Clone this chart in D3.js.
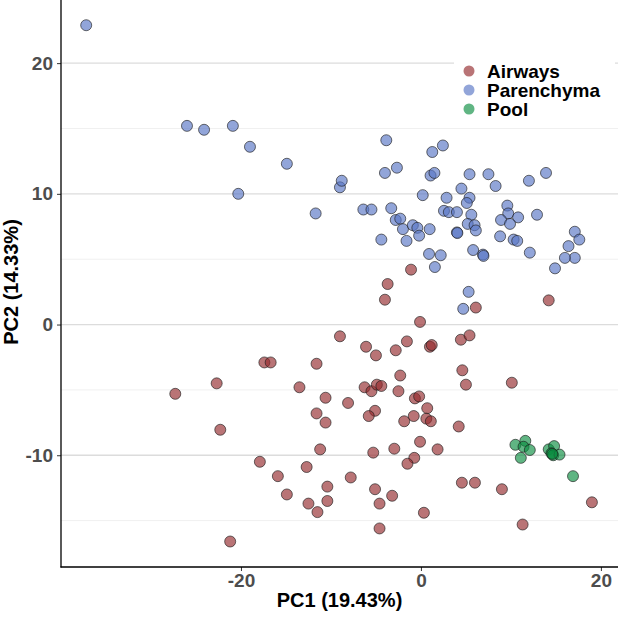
<!DOCTYPE html>
<html>
<head>
<meta charset="utf-8">
<script src="https://cdn.jsdelivr.net/npm/d3@7"></script>
<style>
  html, body { margin: 0; padding: 0; background: #fff; }
  svg { display: block; }
</style>
</head>
<body>
<svg id="chart" width="618" height="617"></svg>
<script>
const groups = ["Airways", "Parenchyma", "Pool"];
const groupColors = ["#942a2d", "#5874c4", "#0a8d40"];

const airwaysX = [-1.1, -3.7, -4.0, 6.1, 14.2, -0.1, -9.0, -6.1, -5.0, -2.8, -1.56, 1.0, 1.2, 4.44, 5.4, 4.6, 5.0, 10.1, -2.3, -6.26, -5.5, -4.9, -4.4, -2.5, -8.1, -5.1, -5.8, -0.67, -0.2, 0.7, -0.8, -1.86, 0.6, 1.1, 4.2, -0.1, 1.85, -2.96, -5.3, -0.74, -1.5, -7.8, -5.1, -3.2, -4.6, 0.33, -4.6, 4.55, 6.0, 9.0, 11.3, 19.0, -17.4, -16.7, -11.6, -22.7, -27.3, -13.5, -10.6, -11.6, -10.6, -22.3, -11.2, -17.9, -12.7, -15.9, -10.4, -14.9, -12.5, -10.4, -11.5, -21.2];
const airwaysY = [4.2, 3.1, 1.9, 1.3, 1.85, 0.2, -0.9, -1.7, -2.36, -1.97, -1.29, -1.7, -1.57, -1.16, -0.83, -3.5, -4.6, -4.45, -3.9, -4.8, -5.1, -4.6, -4.7, -5.1, -6.0, -6.6, -7.0, -5.65, -5.5, -6.4, -7.0, -7.4, -7.2, -7.4, -7.8, -8.97, -9.55, -9.5, -9.8, -10.2, -10.65, -11.7, -12.6, -13.1, -13.7, -14.4, -15.6, -12.1, -12.1, -12.6, -15.3, -13.6, -2.9, -2.9, -3.0, -4.5, -5.3, -4.8, -5.6, -6.8, -7.5, -8.05, -9.55, -10.5, -10.9, -11.6, -12.4, -13.0, -13.7, -13.5, -14.35, -16.6];

const parenchymaX = [-37.2, -26.0, -24.1, -20.9, -19.0, -14.9, -20.3, -11.7, -9.0, -8.8, -3.85, 1.26, 2.44, -4.0, -2.67, 1.07, 1.5, 5.4, 7.5, 8.3, 12.0, 13.9, 4.5, 0.2, 2.85, 5.4, 5.1, -6.4, -5.5, -3.3, -2.8, -2.3, 2.56, 3.1, 4.0, 5.6, 9.6, 9.7, 10.8, 12.9, 8.9, 9.9, -2.0, -0.9, -0.4, -0.2, 0.97, 5.2, 5.96, 6.1, 4.0, 4.05, -4.4, -1.6, 8.8, 10.3, 10.7, 12.1, 17.1, 17.6, 16.4, 17.1, 16.0, 14.9, 0.9, 2.2, 1.55, 5.8, 6.9, 6.95, 5.3, 4.7];
const parenchymaY = [22.9, 15.2, 14.9, 15.2, 13.6, 12.3, 10.0, 8.5, 10.5, 11.0, 14.1, 13.2, 13.7, 11.6, 12.0, 11.4, 11.6, 11.5, 11.5, 10.6, 11.0, 11.6, 10.4, 9.9, 9.7, 9.7, 9.3, 8.8, 8.8, 8.9, 8.0, 8.1, 8.7, 8.6, 8.6, 8.4, 9.1, 8.5, 8.2, 8.4, 8.0, 7.7, 7.3, 7.6, 7.4, 6.8, 7.3, 7.7, 7.6, 7.2, 7.05, 7.0, 6.5, 6.4, 6.75, 6.5, 6.4, 5.5, 7.1, 6.5, 6.0, 5.1, 5.1, 4.3, 5.4, 5.3, 4.4, 5.7, 5.35, 5.25, 2.5, 1.2];

const poolX = [10.5, 11.6, 11.4, 12.1, 11.1, 14.2, 14.8, 14.5, 14.7, 15.4, 14.6, 16.9];
const poolY = [-9.2, -8.9, -9.35, -9.6, -10.2, -9.55, -9.3, -9.85, -10.0, -9.95, -9.9, -11.6];

const xTicks = [-20, 0, 20];
const yTicks = [-10, 0, 10, 20];
const yMinorTicks = [-15, -5, 5, 15];
const xTitle = "PC1 (19.43%)";
const yTitle = "PC2 (14.33%)";

const series = [
  { name: groups[0], color: groupColors[0], xs: airwaysX, ys: airwaysY },
  { name: groups[1], color: groupColors[1], xs: parenchymaX, ys: parenchymaY },
  { name: groups[2], color: groupColors[2], xs: poolX, ys: poolY }
];

const svg = d3.select("#chart");
const mLeft = 61, mRight = 618, mTop = 0, mBottom = 567;
const font = "'Liberation Sans', Arial, sans-serif";

const x = d3.scaleLinear().domain([-40, 21.9]).range([mLeft, mRight]);
const y = d3.scaleLinear().domain([-18.55, 24.83]).range([mBottom, mTop]);

// gridlines
svg.append("g").selectAll("line").data(yMinorTicks).join("line")
  .attr("x1", mLeft).attr("x2", mRight)
  .attr("y1", d => y(d)).attr("y2", d => y(d))
  .attr("stroke", "#f0f0f0").attr("stroke-width", 1);
svg.append("g").selectAll("line").data(yTicks).join("line")
  .attr("x1", mLeft).attr("x2", mRight)
  .attr("y1", d => y(d)).attr("y2", d => y(d))
  .attr("stroke", "#dcdcdc").attr("stroke-width", 1.3);

// legend background
const lg = svg.append("g");
lg.append("rect").attr("x", 454).attr("y", 57).attr("width", 161).attr("height", 62).attr("fill", "#fff");

// points
series.forEach(s => {
  const pts = s.xs.map((v, i) => [v, s.ys[i]]);
  svg.append("g").selectAll("circle").data(pts).join("circle")
    .attr("cx", d => x(d[0])).attr("cy", d => y(d[1]))
    .attr("r", 5.5)
    .attr("fill", s.color).attr("fill-opacity", 0.65)
    .attr("stroke", "#1a1a1a").attr("stroke-opacity", 0.7).attr("stroke-width", 0.9);
});

// axes
const xAxis = svg.append("g").attr("transform", `translate(0,${mBottom})`)
  .call(d3.axisBottom(x).tickValues(xTicks).tickSize(4).tickPadding(3).tickFormat(d3.format("d")));
const yAxis = svg.append("g").attr("transform", `translate(${mLeft},0)`)
  .call(d3.axisLeft(y).tickValues(yTicks).tickSize(4).tickPadding(4).tickFormat(d3.format("d")));
[xAxis, yAxis].forEach(a => {
  a.select(".domain").remove();
  a.selectAll(".tick line").attr("stroke", "#333").attr("stroke-width", 1);
  a.selectAll(".tick text").attr("fill", "#4d4d4d").attr("font-family", font)
    .attr("font-size", 19).attr("font-weight", "bold");
});
xAxis.selectAll(".tick text").text(d => d < 0 ? "-" + Math.abs(d) : d);
yAxis.selectAll(".tick text").text(d => d < 0 ? "-" + Math.abs(d) : d);

svg.append("line").attr("x1", mLeft).attr("x2", mLeft).attr("y1", mTop).attr("y2", mBottom + 0.5)
  .attr("stroke", "#000").attr("stroke-width", 1.3);
svg.append("line").attr("x1", mLeft - 0.5).attr("x2", mRight).attr("y1", mBottom).attr("y2", mBottom)
  .attr("stroke", "#000").attr("stroke-width", 1.3);

// titles
svg.append("text").attr("x", (mLeft + mRight) / 2).attr("y", 607)
  .attr("text-anchor", "middle").attr("font-family", font).attr("font-size", 20)
  .attr("font-weight", "bold").attr("fill", "#000").text(xTitle);
svg.append("text").attr("transform", `translate(17.5,282) rotate(-90)`)
  .attr("text-anchor", "middle").attr("font-family", font).attr("font-size", 20)
  .attr("font-weight", "bold").attr("fill", "#000").text(yTitle);

// legend
groups.forEach((g, i) => {
  const cy = 71 + i * 19;
  lg.append("circle").attr("cx", 469).attr("cy", cy).attr("r", 5.5)
    .attr("fill", groupColors[i]).attr("fill-opacity", 0.65);
  lg.append("text").attr("x", 487).attr("y", cy + 7)
    .attr("font-family", font).attr("font-size", 19).attr("font-weight", "bold")
    .attr("fill", "#000").text(g);
});
</script>
</body>
</html>
